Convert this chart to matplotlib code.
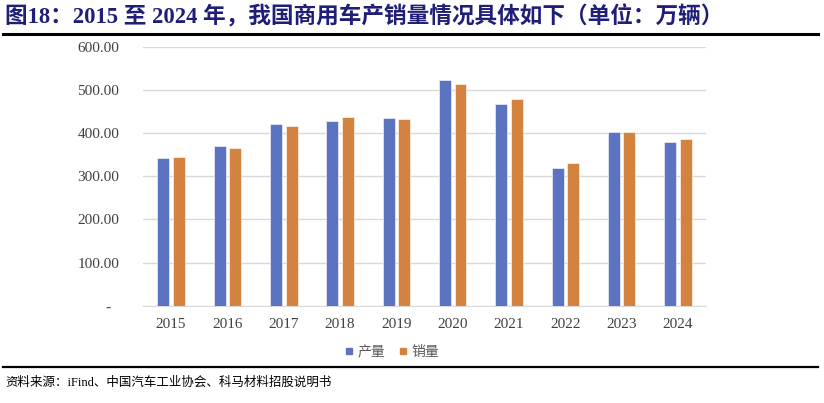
import matplotlib.pyplot as plt
import numpy as np
from matplotlib.lines import Line2D
from matplotlib.ticker import FuncFormatter

#----------------
#DONNEES
#----------------
years = ['2015', '2016', '2017', '2018', '2019', '2020', '2021', '2022', '2023', '2024']
production = [342.4, 369.8, 420.9, 428.0, 436.0, 523.1, 467.4, 318.5, 403.7, 380.5]
sales = [345.1, 365.1, 416.1, 437.1, 432.4, 513.3, 479.3, 330.0, 403.1, 387.3]
series_names = ['产量', '销量']
title = '图18：2015 至 2024 年，我国商用车产销量情况具体如下（单位：万辆）'
source = '资料来源：iFind、中国汽车工业协会、科马材料招股说明书'

blue = '#5B73C0'
orange = '#D4823F'
serif = ['Liberation Serif', 'Noto Sans CJK SC']

plt.rcParams['font.family'] = serif

fig = plt.figure(figsize=(8.24, 4.03), dpi=100)
ax = fig.add_axes([0.1735, 0.2414, 0.857 - 0.1735, 0.8834 - 0.2414])

x = np.arange(len(years))
w = 0.213
off = 0.138
ax.bar(x - off, production, w, color=blue, edgecolor='white', linewidth=0.4, zorder=3)
ax.bar(x + off, sales, w, color=orange, edgecolor='white', linewidth=0.4, zorder=3)

ax.set_xlim(-0.5, len(years) - 0.5)
ax.set_ylim(0, 600)
ax.set_yticks(np.arange(0, 601, 100))
ax.yaxis.set_major_formatter(FuncFormatter(lambda v, p: '-  ' if v == 0 else f'{v:.2f}'))
ax.set_xticks(x)
ax.set_xticklabels(years)
ax.grid(axis='y', color='#D9D9D9', linewidth=1.0, zorder=0)
ax.tick_params(axis='both', length=0, labelsize=11, labelcolor='#404040')
ax.tick_params(axis='y', pad=17)
ax.tick_params(axis='x', pad=9)
for s in ['top', 'right', 'left']:
    ax.spines[s].set_visible(False)
ax.spines['bottom'].set_color('#D9D9D9')

handles = [Line2D([], [], marker='s', linestyle='none', markersize=5, color=blue),
           Line2D([], [], marker='s', linestyle='none', markersize=5, color=orange)]
fig.legend(handles, series_names, loc='center', bbox_to_anchor=(392 / 824, 1 - 352 / 403),
           ncol=2, frameon=False, handlelength=0.6, handletextpad=0.3, columnspacing=1.0,
           labelcolor='#595959', prop={'family': ['Noto Sans CJK SC'], 'size': 10})

# titre et source
fig.text(5 / 824, 1 - 17 / 403, title, fontsize=16.3, fontweight='bold', color='#1F1F78',
         va='center', ha='left', family=serif)
fig.add_artist(Line2D([3 / 824, 818 / 824], [1 - 34 / 403, 1 - 34 / 403], color='black', linewidth=2.2))
fig.add_artist(Line2D([3 / 824, 818 / 824], [1 - 367 / 403, 1 - 367 / 403], color='black', linewidth=1.6))
fig.text(5 / 824, 1 - 383 / 403, source, fontsize=9, color='black', va='center', ha='left',
         family=serif)

fig.savefig('out.png', dpi=100)
